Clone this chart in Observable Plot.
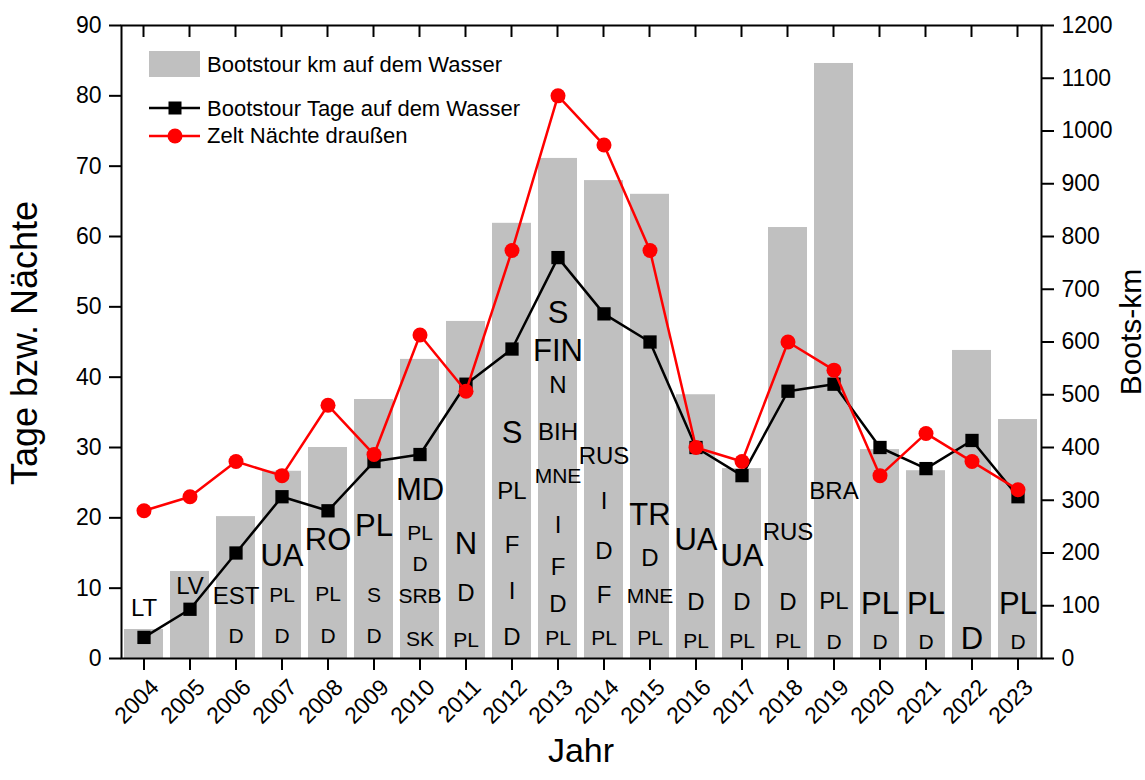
<!DOCTYPE html>
<html><head><meta charset="utf-8">
<script src="https://cdn.jsdelivr.net/npm/d3@7"></script>
<script src="https://cdn.jsdelivr.net/npm/@observablehq/plot@0.6"></script>
<style>
body{margin:0;background:#fff;}
#chart svg{display:block;}
</style></head><body><div id="chart"></div>
<script>
// ---- data ----
const years   = [2004,2005,2006,2007,2008,2009,2010,2011,2012,2013,2014,2015,2016,2017,2018,2019,2020,2021,2022,2023];
const km      = [55,165,269,355,400,491,567,639,825,948,906,880,500,360,817,1128,396,356,584,453];
const tage    = [3,7,15,23,21,28,29,39,44,57,49,45,30,26,38,39,30,27,31,23];
const naechte = [21,23,28,26,36,29,46,38,58,80,73,58,30,28,45,41,26,32,28,24];
const leftTicks  = [0,10,20,30,40,50,60,70,80,90];
const rightTicks = [0,100,200,300,400,500,600,700,800,900,1000,1100,1200];
// country labels: [year, country, level (left-axis units), emphasis 1..3]
const countries = [
  [2004,"LT",7.1,2],[2005,"LV",10.2,2],
  [2006,"EST",8.9,2],[2006,"D",3.2,1],
  [2007,"UA",14.5,3],[2007,"PL",9.0,1],[2007,"D",3.1,1],
  [2008,"RO",16.8,3],[2008,"PL",9.2,1],[2008,"D",3.1,1],
  [2009,"PL",18.8,3],[2009,"S",9.0,1],[2009,"D",3.1,1],
  [2010,"MD",24.0,3],[2010,"PL",17.8,1],[2010,"D",13.4,1],[2010,"SRB",8.8,1],[2010,"SK",2.8,1],
  [2011,"N",16.2,3],[2011,"D",9.2,2],[2011,"PL",2.6,1],
  [2012,"S",32.0,3],[2012,"PL",23.7,2],[2012,"F",16.1,2],[2012,"I",9.6,2],[2012,"D",3.0,2],
  [2013,"S",49.1,3],[2013,"FIN",43.7,3],[2013,"N",38.8,2],[2013,"BIH",32.1,2],[2013,"MNE",25.9,1],[2013,"I",19.0,2],[2013,"F",13.0,2],[2013,"D",7.7,2],[2013,"PL",2.9,1],
  [2014,"RUS",28.8,2],[2014,"I",22.4,2],[2014,"D",15.3,2],[2014,"F",9.0,2],[2014,"PL",2.9,1],
  [2015,"TR",20.4,3],[2015,"D",14.3,2],[2015,"MNE",8.8,1],[2015,"PL",2.9,1],
  [2016,"UA",16.9,3],[2016,"D",8.0,2],[2016,"PL",2.5,1],
  [2017,"UA",14.5,3],[2017,"D",8.0,2],[2017,"PL",2.5,1],
  [2018,"RUS",18.0,2],[2018,"D",8.0,2],[2018,"PL",2.5,1],
  [2019,"BRA",23.8,2],[2019,"PL",8.1,2],[2019,"D",2.3,1],
  [2020,"PL",7.7,3],[2020,"D",2.3,1],
  [2021,"PL",7.7,3],[2021,"D",2.3,1],
  [2022,"D",2.7,3],
  [2023,"PL",7.7,3],[2023,"D",2.3,1]
];
const legendLabels = ["Bootstour km auf dem Wasser","Bootstour Tage auf dem Wasser","Zelt Nächte draußen"];
const titles = {x:"Jahr", yLeft:"Tage bzw. Nächte", yRight:"Boots-km"};

// ---- chart ----
const K = 90/1200; // km -> left axis units
const sizeOf = {1:21, 2:24, 3:31};
const font = "'Liberation Sans', Arial, sans-serif";
const rows = years.map((y,i)=>({year:String(y), km:km[i], tage:tage[i], naechte:naechte[i]}));
const labs = countries.map(c=>({year:String(c[0]), text:c[1], level:c[2], size:sizeOf[c[3]]}));

const plot = Plot.plot({
  width:1145, height:780,
  marginTop:25, marginBottom:122, marginLeft:121, marginRight:104,
  style:{fontFamily:font, fontSize:"23px", color:"black", background:"white", overflow:"visible"},
  x:{type:"band", domain:years.map(String), paddingInner:0.15, paddingOuter:0.075},
  y:{domain:[0,90]},
  marks:[
    Plot.barY(rows,{x:"year", y:d=>d.km*K, fill:"#c0c0c0"}),
    Plot.text(labs,{x:"year", y:"level", text:"text", fontSize:"size", fill:"black"}),
    Plot.line(rows,{x:"year", y:"tage", stroke:"black", strokeWidth:2.5}),
    Plot.dot(rows,{x:"year", y:"tage", symbol:"square", fill:"black", r:7.5}),
    Plot.line(rows,{x:"year", y:"naechte", stroke:"#ff0000", strokeWidth:2.5}),
    Plot.dot(rows,{x:"year", y:"naechte", fill:"#ff0000", r:7.5}),
    Plot.axisY(leftTicks,{anchor:"left", tickSize:12, tickPadding:8, label:null, strokeWidth:2}),
    Plot.axisY(rightTicks.map(v=>v*K),{anchor:"right", tickSize:12, tickPadding:8, tickFormat:v=>String(Math.round(v/K)), label:null, strokeWidth:2}),
    Plot.axisX({anchor:"bottom", tickSize:12, tickPadding:4, tickRotate:-45, label:null, strokeWidth:2}),
    Plot.frame({stroke:"black", strokeWidth:2})
  ]
});
document.getElementById("chart").appendChild(plot);

const svg = d3.select(plot);
// tick label font size
svg.selectAll('g[aria-label$="tick label"]').attr("font-size",23).selectAll("text").style("font-size","23px");
// nudge rotated year labels (right/down) like the reference
svg.selectAll('g[aria-label="x-axis tick label"]').each(function(){
  const t = this.getAttribute("transform") || "";
  this.setAttribute("transform", "translate(11,9) " + t);
});

// inward ticks along the top edge at each year
const xs = plot.scale("x"), ys = plot.scale("y");
const yTop = ys.apply(90);
const tg = svg.append("g").attr("stroke","black").attr("stroke-width",2);
years.forEach(yr=>{
  const cx = xs.apply(String(yr)) + xs.bandwidth/2;
  tg.append("line").attr("x1",cx).attr("x2",cx).attr("y1",yTop).attr("y2",yTop+12);
});

// axis titles
const frameL = 121, frameR = 1145-104, frameMidX = (frameL+frameR)/2;
const at = svg.append("g").attr("font-family",font).attr("fill","black").attr("text-anchor","middle");
at.append("text").attr("x",frameMidX).attr("y",762).attr("font-size",34).text(titles.x);
at.append("text").attr("transform","translate(37,343) rotate(-90)").attr("font-size",36).text(titles.yLeft);
at.append("text").attr("transform","translate(1141,332) rotate(-90)").attr("font-size",30).text(titles.yRight);

// legend (inside the plot area, top-left)
const g = svg.append("g").attr("font-family", font).attr("font-size", 22).attr("fill","black").attr("text-anchor","start");
g.append("rect").attr("x",149).attr("y",51).attr("width",51).attr("height",26).attr("fill","#c0c0c0");
g.append("text").attr("x",207).attr("y",72).text(legendLabels[0]);
g.append("line").attr("x1",149).attr("x2",200).attr("y1",108).attr("y2",108).attr("stroke","black").attr("stroke-width",2.5);
g.append("rect").attr("x",168.5).attr("y",101.5).attr("width",13).attr("height",13).attr("fill","black");
g.append("text").attr("x",207).attr("y",116).text(legendLabels[1]);
g.append("line").attr("x1",149).attr("x2",200).attr("y1",136).attr("y2",136).attr("stroke","#ff0000").attr("stroke-width",2.5);
g.append("circle").attr("cx",175).attr("cy",136).attr("r",7.5).attr("fill","#ff0000");
g.append("text").attr("x",207).attr("y",143).text(legendLabels[2]);
</script></body></html>
